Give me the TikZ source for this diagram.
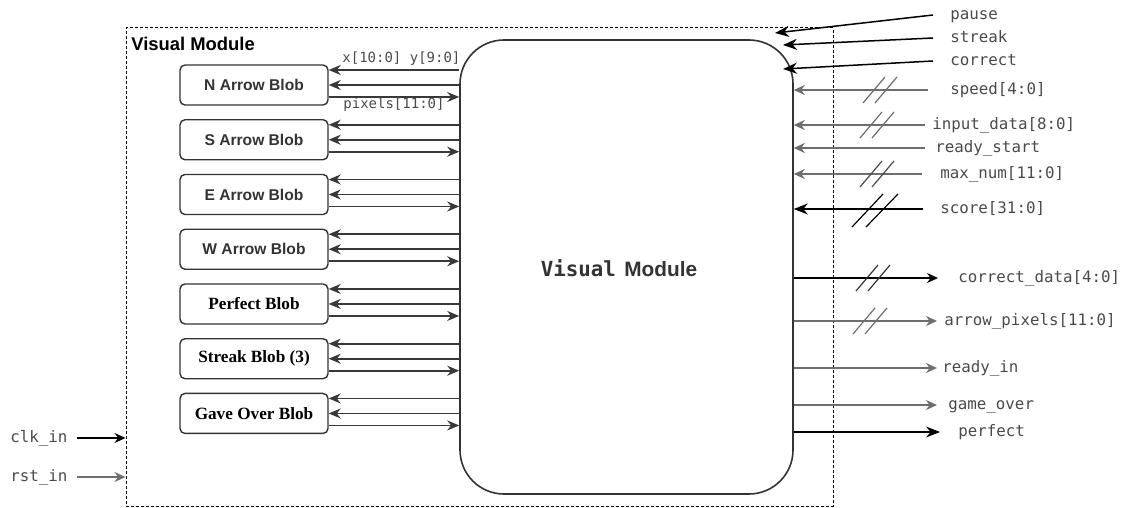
\documentclass[tikz,border=0pt]{standalone}
\usepackage{fontspec}
\setmainfont{Liberation Serif}
\setsansfont{Liberation Sans}
\setmonofont{DejaVu Sans Mono}
\usetikzlibrary{
  arrows.meta,
  positioning,
  calc
}
\definecolor{vmText}{HTML}{4A4A4A}
\definecolor{vmWire}{HTML}{6E6E6E}
\definecolor{vmDark}{HTML}{333333}
\tikzset{
  blob/.style={
    draw=vmDark, rounded corners=2.5pt, minimum width=74pt, minimum height=20pt,
    line width=0.7pt, align=center, inner sep=0pt
  },
  sansblob/.style={blob, font=\fontsize{7.8}{9}\sffamily\bfseries, text=vmDark},
  serifblob/.style={blob, font=\fontsize{8.6}{10}\rmfamily\bfseries},
  sig/.style={font=\fontsize{7.9}{9}\ttfamily, text=vmText, inner sep=0pt, anchor=west,
    text height=6pt, text depth=1.8pt},
  subsig/.style={sig, font=\fontsize{7}{8}\ttfamily},
  frame/.style={draw, dash pattern=on 1.5pt off 1pt, line width=0.5pt},
  module/.style={draw=vmDark, line width=0.8pt, rounded corners=22pt},
  wire/.style={-{Stealth[length=5.5pt,width=5pt]}, line width=0.75pt, vmWire},
  darkwire/.style={wire, black},
  bigwire/.style={-{Stealth[length=7pt,width=5.5pt]}, line width=0.75pt, black},
  blobwire/.style={-{Stealth[length=6pt,width=5pt]}, line width=0.8pt, black!78},
  busline/.style={line width=0.6pt}
}
% two slanted strokes across a bus wire
\newcommand{\busmark}[3][vmWire]{%
  \draw[busline,#1] (#2-17,#3+13) -- (#2+5,#3-13) (#2-5,#3+13) -- (#2+17,#3-13);}

\begin{document}
\begin{tikzpicture}[x=0.5pt, y=-0.5pt, node distance=6.67pt]
  \useasboundingbox (0,0) rectangle (1123,508);
  \node[frame, minimum width=353.5pt, minimum height=239pt] (frame) at (479.5,267) {};
  \node[font=\fontsize{9.2}{11}\sffamily\bfseries, anchor=west, inner sep=0pt] (title) at (131,44) {Visual Module};
  \node[module, minimum width=166.5pt, minimum height=227pt] (vm) at (626.5,267) {};
  \node[text=vmDark] (vmtitle) at (619,268)
    {{\fontsize{10.4}{12}\ttfamily\bfseries Visual}\ \,{\fontsize{10.4}{12}\sffamily\bfseries Module}};

  % blobs
  \node[sansblob] (nblob) at (254,85) {N Arrow Blob};
  \node[sansblob, below=of nblob] (sblob) {S Arrow Blob};
  \node[sansblob, below=of sblob] (eblob) {E Arrow Blob};
  \node[sansblob, below=of eblob] (wblob) {W Arrow Blob};
  \node[serifblob, below=of wblob] (perfblob) {Perfect Blob};
  \node[serifblob, below=of perfblob] (streakblob) {Streak Blob (3)};
  \node[serifblob, below=of streakblob] (overblob) {Gave Over Blob};
  \foreach \b in {nblob,sblob,eblob,wblob,perfblob,streakblob,overblob}{
    \draw[blobwire] ($(vm.west |- \b.east)+(0,7.5pt)$) -- ($(\b.east)+(0,7.5pt)$);
    \draw[blobwire] (vm.west |- \b.east) -- (\b.east);
    \draw[blobwire] ($(\b.east)+(0,-6pt)$) -- ($(vm.west |- \b.east)+(0,-6pt)$);
  }
  \node[subsig] (xy) at (342,58) {x[10:0] y[9:0]};
  \node[subsig] (pix) at (343,104) {pixels[11:0]};

  % inputs on the right
  \node[sig] (pause) at (950,15) {pause};
  \node[sig] (streak) at (950,38) {streak};
  \node[sig] (correct) at (950,61) {correct};
  \node[sig] (speed) at (950,90) {speed[4:0]};
  \node[sig] (indata) at (932,125) {input\_data[8:0]};
  \node[sig] (rstart) at (935,148) {ready\_start};
  \node[sig] (maxnum) at (940,174) {max\_num[11:0]};
  \node[sig] (score) at (940,209) {score[31:0]};
  \coordinate (pausetip) at (775,33);
  \coordinate (streaktip) at (783,45);
  \coordinate (correcttip) at (783,69);
  \draw[bigwire] ([xshift=-8.5pt]pause.west) -- (pausetip);
  \draw[bigwire] ([xshift=-8.5pt]streak.west) -- (streaktip);
  \draw[bigwire] ([xshift=-8.5pt]correct.west) -- (correcttip);
  \draw[wire] ([xshift=-11pt]speed.west) -- (vm.east |- speed.west);
  \draw[wire] ([xshift=-3.5pt]indata.west) -- (vm.east |- indata.west);
  \draw[wire] ([xshift=-5pt]rstart.west) -- (vm.east |- rstart.west);
  \draw[wire] ([xshift=-9pt]maxnum.west) -- (vm.east |- maxnum.west);
  \draw[bigwire] ([xshift=-8.5pt]score.west) -- (vm.east |- score.west);
  \busmark{880}{90}
  \busmark{877}{125}
  \busmark[vmText]{877}{174}
  \draw[busline, black] (852,227) -- (883,194) (866,227) -- (898,194);

  % outputs on the right
  \node[sig] (cdata) at (958,278) {correct\_data[4:0]};
  \node[sig] (apix) at (944,321) {arrow\_pixels[11:0]};
  \node[sig] (rin) at (942,368) {ready\_in};
  \node[sig] (gover) at (948,405) {game\_over};
  \node[sig] (perf) at (958,432) {perfect};
  \draw[darkwire] (vm.east |- cdata.west) -- ([xshift=-10pt]cdata.west);
  \draw[wire] (vm.east |- apix.west) -- ([xshift=-3.5pt]apix.west);
  \draw[wire] (vm.east |- rin.west) -- ([xshift=-2.5pt]rin.west);
  \draw[wire] (vm.east |- gover.west) -- ([xshift=-5.5pt]gover.west);
  \draw[bigwire] (vm.east |- perf.west) -- ([xshift=-9pt]perf.west);
  \busmark[vmDark]{873}{278}
  \busmark{870}{321}

  % clock and reset
  \node[sig] (clk) at (10,438) {clk\_in};
  \node[sig] (rst) at (10,477) {rst\_in};
  \draw[darkwire] ([xshift=4.5pt]clk.east) -- (frame.west |- clk.east);
  \draw[wire] ([xshift=4.5pt]rst.east) -- (frame.west |- rst.east);
\end{tikzpicture}
\end{document}
